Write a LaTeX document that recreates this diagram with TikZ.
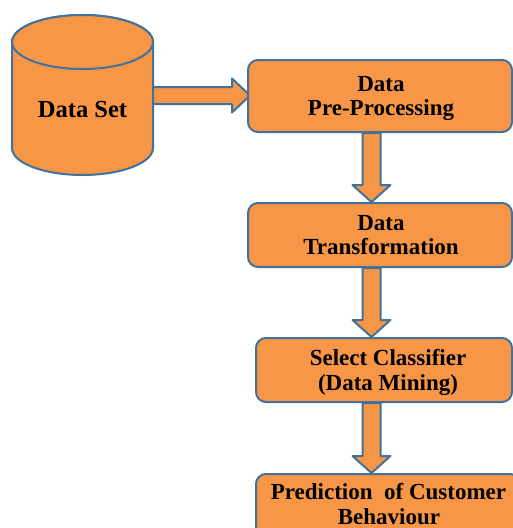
\documentclass[tikz,border=0pt]{standalone}
\usepackage{fontspec}
\setmainfont{Liberation Serif}
\usetikzlibrary{calc}

\definecolor{boxfill}{HTML}{F79646}
\definecolor{boxline}{HTML}{41719C}

\tikzset{
  shapeline/.style={draw=boxline, fill=boxfill, line width=2pt, line join=round},
  stagebox/.style={shapeline, rounded corners=10pt, inner sep=0pt},
  lineoftext/.style={anchor=base, inner sep=0pt,
    font=\bfseries\fontsize{23}{25}\selectfont}
}

% block arrow pointing down: start coordinate, tip coordinate
\newcommand{\downblock}[2]{%
  \draw[shapeline] ($(#1)+(-9,0)$) -- ($(#2)+(-9,-17)$) -- ($(#2)+(-19,-17)$)
    -- (#2) -- ($(#2)+(19,-17)$) -- ($(#2)+(9,-17)$) -- ($(#1)+(9,0)$) -- cycle;}

\begin{document}
\begin{tikzpicture}[x=1pt,y=-1pt]
  \useasboundingbox (0,0) rectangle (513,528);
  \clip (0,0) rectangle (513,528);

  % data set cylinder
  \coordinate (dsR) at (153,95.5);
  \coordinate (preL) at (250,95.5);
  % block arrow to the first stage
  \draw[shapeline] ($(dsR)+(-5,-8.5)$) -- ($(preL)+(-18,-8.5)$) -- ($(preL)+(-18,-17)$)
    -- (preL) -- ($(preL)+(-18,17)$) -- ($(preL)+(-18,8.5)$) -- ($(dsR)+(-5,8.5)$) -- cycle;

  \draw[shapeline] (12,42) -- (12,148) arc[start angle=180, end angle=360, x radius=70.5, y radius=-27]
    -- (153,42) arc[start angle=0, end angle=180, x radius=70.5, y radius=-27] -- cycle;
  \draw[shapeline] (82.5,42) ellipse[x radius=70.5, y radius=27];
  \node[lineoftext, font=\bfseries\fontsize{24.5}{26}\selectfont] (ds) at (82.5,117) {Data Set};

  % processing stages
  \node[stagebox, minimum width=264, minimum height=72] (pre) at (380,96) {};
  \node[stagebox, minimum width=264, minimum height=64] (trans) at (380,235) {};
  \node[stagebox, minimum width=256, minimum height=64] (cls) at (384,370) {};
  \node[stagebox, minimum width=264, minimum height=64] (pred) at (388,506) {};

  % two lines of text in each stage, placed on their baselines
  \node[lineoftext] (pre1) at ($(pre.center)+(1,-5)$) {Data};
  \node[lineoftext] (pre2) at ($(pre.center)+(1,19.7)$) {Pre-Processing};
  \node[lineoftext] (trans1) at ($(trans.center)+(1,-5)$) {Data};
  \node[lineoftext] (trans2) at ($(trans.center)+(1,19.7)$) {Transformation};
  \node[lineoftext] (cls1) at ($(cls.center)+(4,-4.5)$) {Select Classifier};
  \node[lineoftext] (cls2) at ($(cls.center)+(4,20)$) {(Data Mining)};
  \node[lineoftext] (pred1) at ($(pred.center)+(0.5,-7)$) {Prediction\ \ of Customer};
  \node[lineoftext] (pred2) at ($(pred.center)+(1,18.5)$) {Behaviour};

  % block arrows between stages
  \coordinate (axis) at (371.5,0);
  \coordinate (a1s) at (axis |- pre.south);
  \coordinate (a1e) at (axis |- trans.north);
  \coordinate (a2s) at (axis |- trans.south);
  \coordinate (a2e) at (axis |- cls.north);
  \coordinate (a3s) at (axis |- cls.south);
  \coordinate (a3e) at (axis |- pred.north);
  \downblock{a1s}{a1e}
  \downblock{a2s}{a2e}
  \downblock{a3s}{a3e}
\end{tikzpicture}
\end{document}
